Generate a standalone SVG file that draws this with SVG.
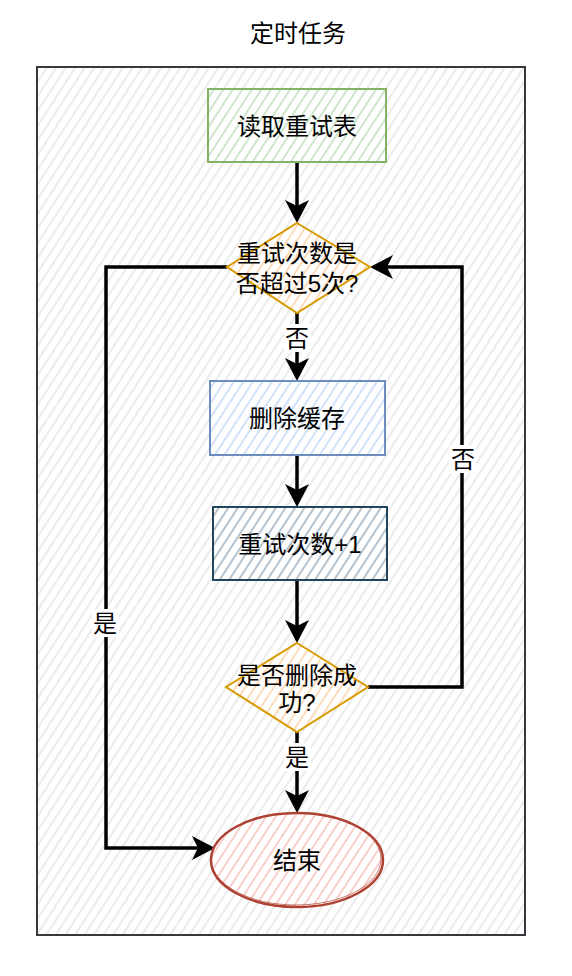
<svg xmlns="http://www.w3.org/2000/svg" width="572" height="976" viewBox="0 0 572 976">
<defs>
<pattern id="hGrey" width="8" height="8" patternUnits="userSpaceOnUse" patternTransform="rotate(33)"><line x1="4" y1="0" x2="4" y2="8" stroke="#e6e6e6" stroke-width="1.6"/></pattern>
<pattern id="hGreen" width="8" height="8" patternUnits="userSpaceOnUse" patternTransform="rotate(33)"><line x1="4" y1="0" x2="4" y2="8" stroke="#cfe5cc" stroke-width="2"/></pattern>
<pattern id="hBlue" width="8" height="8" patternUnits="userSpaceOnUse" patternTransform="rotate(33)"><line x1="4" y1="0" x2="4" y2="8" stroke="#d2e2f8" stroke-width="2"/></pattern>
<pattern id="hSlate" width="8" height="8" patternUnits="userSpaceOnUse" patternTransform="rotate(33)"><line x1="4" y1="0" x2="4" y2="8" stroke="#b5c3cf" stroke-width="2"/></pattern>
<pattern id="hOrange" width="8" height="8" patternUnits="userSpaceOnUse" patternTransform="rotate(33)"><line x1="4" y1="0" x2="4" y2="8" stroke="#fddcbc" stroke-width="2"/></pattern>
<pattern id="hRed" width="8" height="8" patternUnits="userSpaceOnUse" patternTransform="rotate(33)"><line x1="4" y1="0" x2="4" y2="8" stroke="#f8d0cb" stroke-width="2"/></pattern>
<marker id="arr" markerUnits="userSpaceOnUse" markerWidth="26" markerHeight="26" refX="6" refY="12" orient="auto" overflow="visible"><path d="M0,0 L23,12 L0,24 L6,12 Z" fill="#000"/></marker>
</defs>
<style>
text{font-family:"Liberation Sans","Noto Sans CJK SC",sans-serif;font-size:24px;fill:#000;text-anchor:middle;dominant-baseline:central}
.edge{fill:none;stroke:#000;stroke-width:3.5;marker-end:url(#arr)}
.lbg{fill:#fff}
</style>
<text x="298" y="33">定时任务</text>
<g id="container">
<rect x="37" y="67" width="488" height="868" fill="#fff"/>
<rect x="37" y="67" width="488" height="868" fill="url(#hGrey)" stroke="#36393d" stroke-width="2"/>
</g>
<g id="connectors">
<path class="edge" d="M297,162 V206"/>
<path class="edge" d="M227,267 H106 V848 H198"/>
<path class="edge" d="M297,313 V364"/>
<path class="edge" d="M297,455 V490"/>
<path class="edge" d="M297,580 V626"/>
<path class="edge" d="M297,732 V796"/>
<path class="edge" d="M368,687 H462 V267 H387"/>
<rect class="lbg" x="92" y="609" width="27" height="28"/>
<text x="105" y="623">是</text>
<rect class="lbg" x="449" y="445" width="27" height="28"/>
<text x="463" y="459">否</text>
<rect class="lbg" x="284" y="324" width="27" height="28"/>
<text x="297" y="338">否</text>
<rect class="lbg" x="284" y="743" width="27" height="28"/>
<text x="297" y="757">是</text>
</g>
<g id="n1">
<rect x="208" y="89" width="178" height="73" fill="#fff"/>
<rect x="208" y="89" width="178" height="73" fill="url(#hGreen)" stroke="#82b366" stroke-width="2"/>
<text x="297" y="126">读取重试表</text>
</g>
<g id="d1">
<polygon points="297,223 370,267 297,313 227,267" fill="#fff"/>
<polygon points="297,223 370,267 297,313 227,267" fill="url(#hOrange)" stroke="#d79b00" stroke-width="2"/>
<text x="297" y="253">重试次数是</text>
<text x="297" y="283">否超过5次?</text>
</g>
<g id="n2">
<rect x="210" y="381" width="175" height="74" fill="#fff"/>
<rect x="210" y="381" width="175" height="74" fill="url(#hBlue)" stroke="#6c8ebf" stroke-width="2"/>
<text x="297" y="418">删除缓存</text>
</g>
<g id="n3">
<rect x="213" y="507" width="174" height="73" fill="#fff"/>
<rect x="213" y="507" width="174" height="73" fill="url(#hSlate)" stroke="#23445d" stroke-width="2"/>
<text x="300" y="544">重试次数+1</text>
</g>
<g id="d2">
<polygon points="297,643 368,687 297,732 226,687" fill="#fff"/>
<polygon points="297,643 368,687 297,732 226,687" fill="url(#hOrange)" stroke="#d79b00" stroke-width="2"/>
<text x="297" y="675">是否删除成</text>
<text x="297" y="702">功?</text>
</g>
<g id="end">
<ellipse cx="297" cy="860" rx="86" ry="47" fill="#fff"/>
<ellipse cx="297" cy="860" rx="86" ry="47" fill="url(#hRed)" stroke="#ae4132" stroke-width="2.5"/>
<ellipse cx="296" cy="859" rx="85" ry="46" fill="none" stroke="#ae4132" stroke-width="1" opacity="0.7"/>
<text x="297" y="860">结束</text>
</g>
</svg>
